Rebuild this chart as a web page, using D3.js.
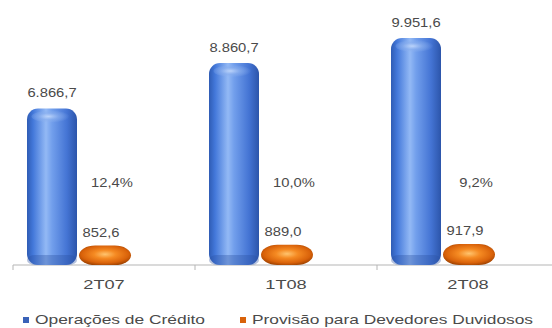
<!DOCTYPE html>
<html>
<head>
<meta charset="utf-8">
<script src="https://cdn.jsdelivr.net/npm/d3@7"></script>
<style>
  html, body { margin: 0; padding: 0; background: #fff; }
  svg { display: block; }
  text { font-family: "Liberation Sans", Arial, sans-serif; fill: #4a4a4a; }
</style>
</head>
<body>
<svg id="chart" width="552" height="328"></svg>
<script>
// Quarterly credit portfolio and loan-loss provision (R$ milhões)
const categories = ["2T07", "1T08", "2T08"];
const credito = [6866.7, 8860.7, 9951.6];
const provisao = [852.6, 889.0, 917.9];
const ratio = [12.4, 10.0, 9.2];
const seriesNames = ["Operações de Crédito", "Provisão para Devedores Duvidosos"];

const fmt = v => d3.format(",.1f")(v).replace(/,/g, "#").replace(".", ",").replace(/#/g, ".");

const svg = d3.select("#chart");
const defs = svg.append("defs");

// Cylinder shading for the credit bars
const gBlue = defs.append("linearGradient").attr("id", "blueCyl").attr("x1", 0).attr("x2", 1).attr("y1", 0).attr("y2", 0);
[[0, "#2f5cb4"], [0.12, "#4378da"], [0.38, "#93b9f5"], [0.5, "#729fec"], [0.8, "#4474d4"], [1, "#2c55aa"]]
  .forEach(([o, c]) => gBlue.append("stop").attr("offset", o).attr("stop-color", c));
const gBlueTop = defs.append("radialGradient").attr("id", "blueTop").attr("cx", 0.45).attr("cy", 0.5).attr("r", 0.55);
[[0, "#c8dcfc", 1], [0.5, "#8aafee", 0.8], [1, "#8aafee", 0]]
  .forEach(([o, c, a]) => gBlueTop.append("stop").attr("offset", o).attr("stop-color", c).attr("stop-opacity", a));

// Orange capsule shading for the provision bars
const gOr = defs.append("radialGradient").attr("id", "orangeCap").attr("cx", 0.5).attr("cy", 0.45).attr("r", 0.6);
[[0, "#ffc46e"], [0.35, "#f58a22"], [0.75, "#d9620a"], [1, "#9a4000"]]
  .forEach(([o, c]) => gOr.append("stop").attr("offset", o).attr("stop-color", c));

// Scales
const x = d3.scaleBand().domain(categories).range([13, 559]);
const inner = d3.scaleBand().domain(["credito", "provisao"]).range([14, 118]);
const y = d3.scaleLinear().domain([0, 10000]).range([265, 37]);

// Axis: baseline with ticks at category boundaries
const axisG = svg.append("g").attr("transform", `translate(0,${y(0)})`);
axisG.append("line").attr("x1", x.range()[0]).attr("x2", 552).attr("stroke", "#b5b5b5").attr("stroke-width", 1);
axisG.selectAll("line.tick").data(categories).enter().append("line")
  .attr("class", "tick")
  .attr("x1", d => x(d)).attr("x2", d => x(d))
  .attr("y1", 0).attr("y2", 5).attr("stroke", "#b5b5b5");

// Horizontally stretched text helper
function label(g, txt, px, py, size, sx, anchor) {
  return g.append("text")
    .attr("transform", `translate(${px},${py}) scale(${sx},1)`)
    .attr("text-anchor", anchor || "middle")
    .style("font-size", size + "px")
    .text(txt);
}

const groups = svg.selectAll("g.grp").data(categories).enter().append("g").attr("class", "grp");

// Credit bars (rounded cylinders)
groups.each(function (c, i) {
  const g = d3.select(this);
  const bx = x(c) + inner("credito");
  const bw = inner.bandwidth() - 2;
  const top = y(credito[i]);
  const h = y(0) - top;
  g.append("rect").attr("x", bx).attr("y", top).attr("width", bw).attr("height", h)
    .attr("rx", 11).attr("ry", 11).attr("fill", "url(#blueCyl)");
  g.append("ellipse").attr("cx", bx + bw * 0.47).attr("cy", top + 8).attr("rx", bw * 0.38).attr("ry", 6)
    .attr("fill", "url(#blueTop)").attr("opacity", 0.8);
  g.append("rect").attr("x", bx).attr("y", y(0) - 10).attr("width", bw).attr("height", 10)
    .attr("rx", 8).attr("fill", "#2a50a0").attr("opacity", 0.35);
});

// Provision bars (flattened capsules)
groups.each(function (c, i) {
  const g = d3.select(this);
  const bx = x(c) + inner("provisao");
  const bw = inner.bandwidth();
  const top = y(provisao[i]);
  const h = y(0) - top;
  g.append("rect").attr("x", bx).attr("y", top).attr("width", bw).attr("height", h)
    .attr("rx", bw / 3.2).attr("ry", h / 2).attr("fill", "url(#orangeCap)");
});

// Value labels
groups.each(function (c, i) {
  const g = d3.select(this);
  label(g, fmt(credito[i]), x(c) + inner("credito") + inner.bandwidth() / 2 - 1, y(credito[i]) - 11, 12.5, 1.18);
  label(g, fmt(provisao[i]), x(c) + inner("provisao") + inner.bandwidth() / 2 - 4, y(provisao[i]) - 9, 12.5, 1.18);
  label(g, d3.format(".1f")(ratio[i]).replace(".", ",") + "%", x(c) + 99, 187, 12.5, 1.18);
  label(g, c, x(c) + x.bandwidth() / 2, 289, 13, 1.4);
});

// Legend
const legend = svg.append("g");
const legendItems = [
  { name: seriesNames[0], color: "#3a62b8", x: 23, tx: 35, w: 170 },
  { name: seriesNames[1], color: "#d9620a", x: 240, tx: 252, w: 281 }
];
legendItems.forEach(it => {
  legend.append("rect").attr("x", it.x).attr("y", 317).attr("width", 6).attr("height", 6).attr("fill", it.color);
  legend.append("text").attr("x", it.tx).attr("y", 324)
    .style("font-size", "13px")
    .attr("textLength", it.w).attr("lengthAdjust", "spacingAndGlyphs")
    .text(it.name);
});
</script>
</body>
</html>
